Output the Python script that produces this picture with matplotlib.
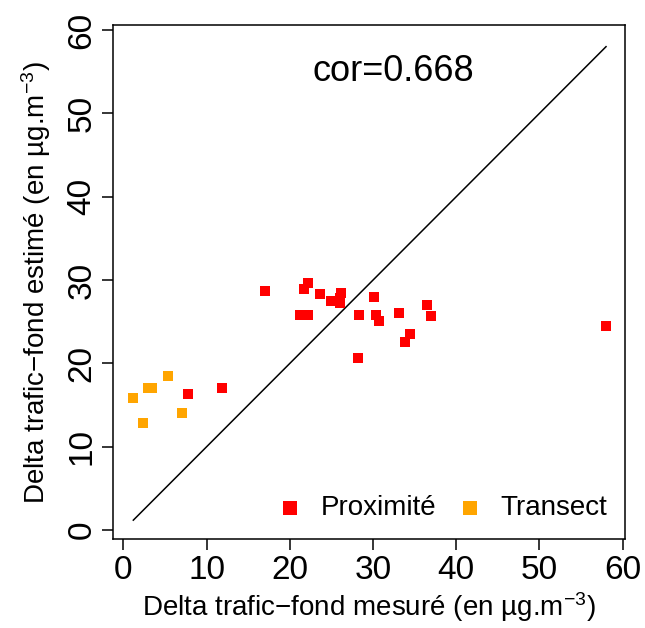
import matplotlib
matplotlib.use('Agg')

import matplotlib.pyplot as plt
import numpy as np

plt.rcParams['font.family'] = ['Liberation Sans', 'DejaVu Sans']
plt.rcParams['mathtext.fontset'] = 'custom'
plt.rcParams['mathtext.rm'] = 'Liberation Sans'
plt.rcParams['mathtext.default'] = 'regular'

# Proximité sites (red)
prox_x = [17.0, 7.8, 11.9, 22.2, 21.7, 23.6, 26.1, 24.9, 26.0, 26.0,
          21.2, 22.2, 30.1, 28.3, 30.4, 30.7, 33.1, 36.5, 37.0, 34.5,
          33.9, 28.2, 58.0]
prox_y = [28.7, 16.3, 17.1, 29.7, 28.9, 28.3, 28.5, 27.5, 27.3, 27.9,
          25.8, 25.8, 28.0, 25.8, 25.8, 25.1, 26.0, 27.0, 25.7, 23.5,
          22.6, 20.7, 24.5]

# Transect sites (orange)
trans_x = [5.4, 3.0, 3.4, 1.2, 2.4, 7.1]
trans_y = [18.5, 17.1, 17.1, 15.9, 12.9, 14.0]

cor_value = 0.668
ticks = [0, 10, 20, 30, 40, 50, 60]

fig = plt.figure(figsize=(6.45, 6.28), dpi=100)
ax = fig.add_axes([0.1747, 0.1412, 0.7943, 0.819])

all_x = prox_x + trans_x
xmin, xmax = min(all_x), max(all_x)
ax.plot([xmin, xmax], [xmin, xmax], color='black', lw=1.1)

ax.scatter(prox_x, prox_y, marker='s', s=60, color='#FF0000', linewidths=0,
           label='Proximité', zorder=3)
ax.scatter(trans_x, trans_y, marker='s', s=60, color='#FFA500', linewidths=0,
           label='Transect', zorder=3)

ax.set_xlim(-1.28, 60.28)
ax.set_ylim(-1.1, 60.6)
ax.set_xticks(ticks)
ax.set_yticks(ticks)
ax.tick_params(direction='out', length=8, width=1.1, labelsize=24, pad=3)
plt.setp(ax.get_yticklabels(), rotation=90, va='center')
for s in ax.spines.values():
    s.set_linewidth(1.1)

ax.set_xlabel('Delta trafic\u2212fond mesuré (en µg.m$^{-3}$)', fontsize=20, labelpad=3)
ax.set_ylabel('Delta trafic\u2212fond estimé (en µg.m$^{-3}$)', fontsize=20, labelpad=10)

ax.text(32.4, 55.0, f'cor={cor_value}', fontsize=26, ha='center', va='center')

ax.legend(loc='lower right', bbox_to_anchor=(1.0, 0.0), ncol=2, frameon=False,
          fontsize=20, handletextpad=0.6, columnspacing=0.7, markerscale=1.3,
          borderaxespad=0.25, handlelength=1.0)

plt.savefig('out.png', dpi=100)
plt.close(fig)
